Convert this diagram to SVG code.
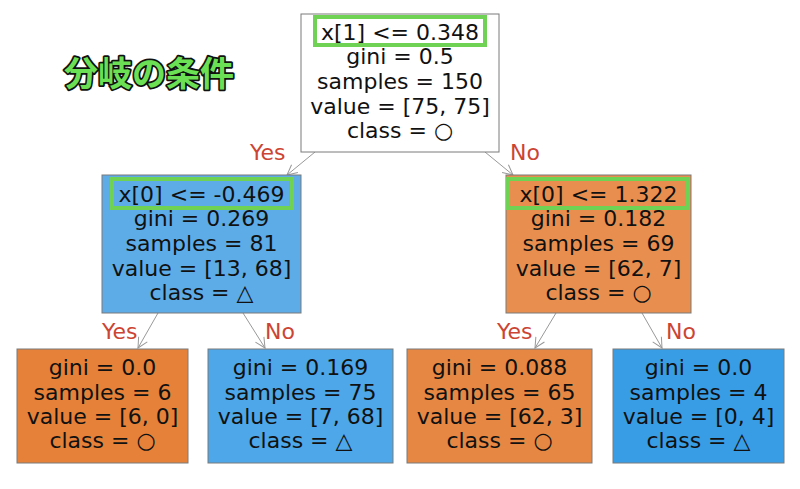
<svg xmlns="http://www.w3.org/2000/svg" width="800" height="489" viewBox="0 0 800 489">
<style>
.box{stroke:#7a7a7a;stroke-width:1}
.t{font-family:"DejaVu Sans",sans-serif;font-size:22px;fill:#111;text-anchor:middle}
.hl{fill:none;stroke:#6fd254;stroke-width:4}
.lbl{font-family:"DejaVu Sans",sans-serif;font-size:22px;fill:#cc4433}
.edge{stroke:#999;stroke-width:1;fill:none}
.title{font-family:"Noto Sans CJK JP",sans-serif;font-weight:bold;font-size:34px;fill:#6be055;stroke:#111;stroke-width:3.5;paint-order:stroke;stroke-linejoin:round}
</style>
<defs>
<marker id="arr" viewBox="0 0 12 12" refX="11" refY="6" markerWidth="12" markerHeight="12" markerUnits="userSpaceOnUse" orient="auto">
<path d="M1,1 L11,6 L1,11" fill="none" stroke="#999" stroke-width="1"/>
</marker>
</defs>
<rect width="800" height="489" fill="#fff"/>
<text class="title" x="64" y="86">分岐の条件</text>
<g id="connectors">
<line class="edge" x1="315" y1="152" x2="287" y2="175" marker-end="url(#arr)"/>
<line class="edge" x1="485" y1="152" x2="513" y2="175" marker-end="url(#arr)"/>
<line class="edge" x1="158" y1="313" x2="138" y2="348" marker-end="url(#arr)"/>
<line class="edge" x1="243" y1="313" x2="265" y2="348" marker-end="url(#arr)"/>
<line class="edge" x1="556" y1="313" x2="535" y2="348" marker-end="url(#arr)"/>
<line class="edge" x1="642" y1="313" x2="662" y2="348" marker-end="url(#arr)"/>
<text class="lbl" x="250" y="160">Yes</text>
<text class="lbl" x="510" y="160">No</text>
<text class="lbl" x="102" y="339">Yes</text>
<text class="lbl" x="265" y="339">No</text>
<text class="lbl" x="497" y="339">Yes</text>
<text class="lbl" x="666" y="339">No</text>
</g>
<g id="root">
<rect class="box" x="301" y="14" width="198" height="138" fill="#ffffff"/>
<rect class="hl" x="315" y="17" width="170" height="28"/>
<text class="t" x="400" y="40">x[1] &lt;= 0.348</text>
<text class="t" x="400" y="64">gini = 0.5</text>
<text class="t" x="400" y="89">samples = 150</text>
<text class="t" x="400" y="114">value = [75, 75]</text>
<text class="t" x="400" y="138">class = ○</text>
</g>
<g id="left">
<rect class="box" x="102" y="175" width="199" height="138" fill="#5dace8"/>
<rect class="hl" x="112" y="179" width="180" height="29"/>
<text class="t" x="201.5" y="202">x[0] &lt;= -0.469</text>
<text class="t" x="201.5" y="226">gini = 0.269</text>
<text class="t" x="201.5" y="251">samples = 81</text>
<text class="t" x="201.5" y="276">value = [13, 68]</text>
<text class="t" x="201.5" y="300">class = △</text>
</g>
<g id="right">
<rect class="box" x="506" y="175" width="185" height="138" fill="#e88f4f"/>
<rect class="hl" x="508" y="179" width="180" height="29"/>
<text class="t" x="598.5" y="202">x[0] &lt;= 1.322</text>
<text class="t" x="598.5" y="226">gini = 0.182</text>
<text class="t" x="598.5" y="251">samples = 69</text>
<text class="t" x="598.5" y="276">value = [62, 7]</text>
<text class="t" x="598.5" y="300">class = ○</text>
</g>
<g id="leaf1">
<rect class="box" x="17" y="349" width="171" height="114" fill="#e58139"/>
<text class="t" x="102.5" y="375">gini = 0.0</text>
<text class="t" x="102.5" y="400">samples = 6</text>
<text class="t" x="102.5" y="424">value = [6, 0]</text>
<text class="t" x="102.5" y="448">class = ○</text>
</g>
<g id="leaf2">
<rect class="box" x="208" y="349" width="185" height="114" fill="#4da7e8"/>
<text class="t" x="300.5" y="375">gini = 0.169</text>
<text class="t" x="300.5" y="400">samples = 75</text>
<text class="t" x="300.5" y="424">value = [7, 68]</text>
<text class="t" x="300.5" y="448">class = △</text>
</g>
<g id="leaf3">
<rect class="box" x="407" y="349" width="185" height="114" fill="#e68743"/>
<text class="t" x="499.5" y="375">gini = 0.088</text>
<text class="t" x="499.5" y="400">samples = 65</text>
<text class="t" x="499.5" y="424">value = [62, 3]</text>
<text class="t" x="499.5" y="448">class = ○</text>
</g>
<g id="leaf4">
<rect class="box" x="613" y="349" width="171" height="114" fill="#399de5"/>
<text class="t" x="698.5" y="375">gini = 0.0</text>
<text class="t" x="698.5" y="400">samples = 4</text>
<text class="t" x="698.5" y="424">value = [0, 4]</text>
<text class="t" x="698.5" y="448">class = △</text>
</g>
</svg>
